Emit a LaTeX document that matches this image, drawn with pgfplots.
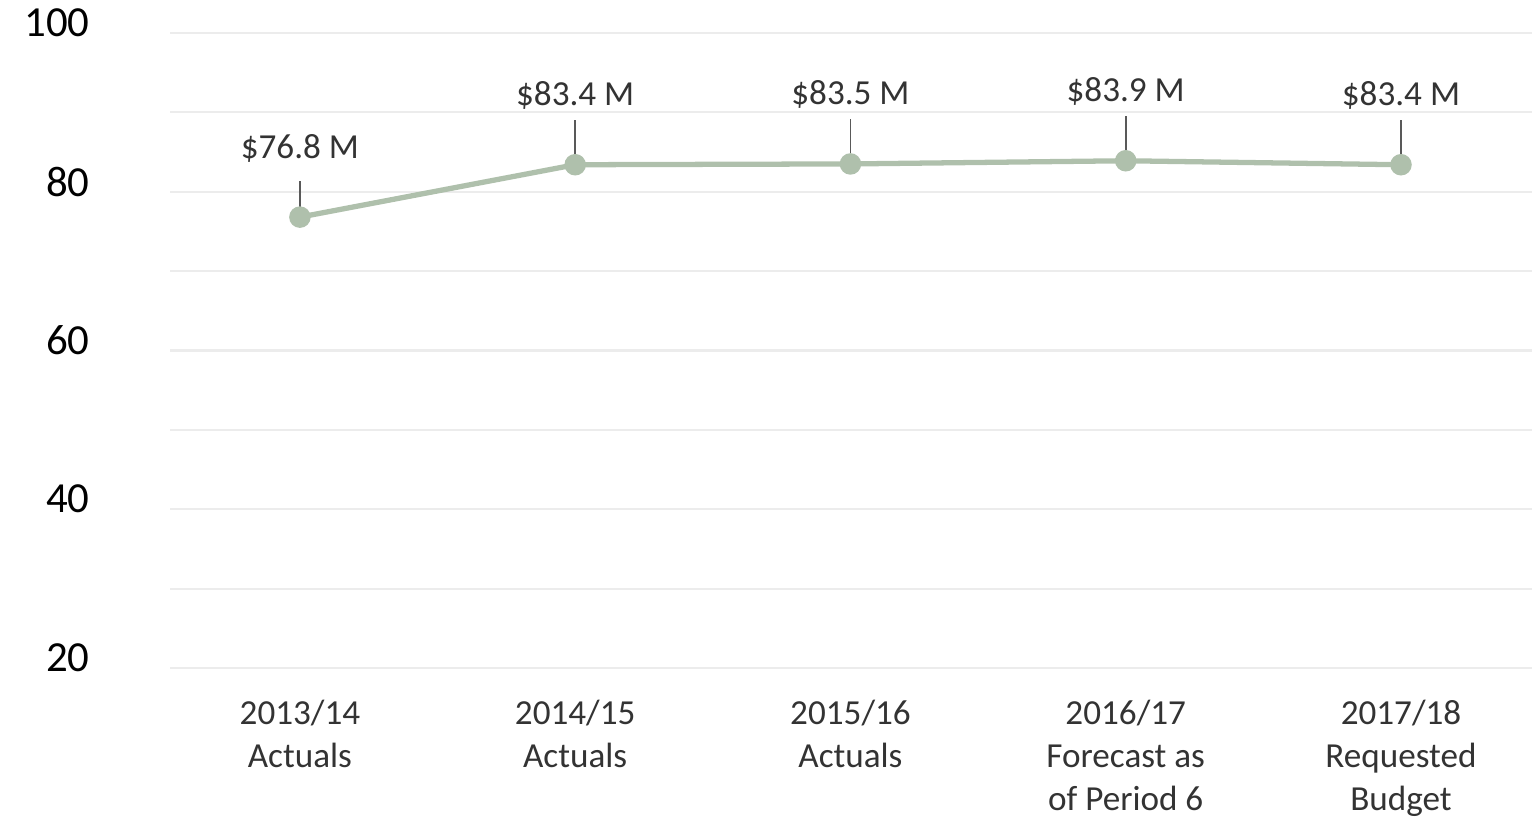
\documentclass[border=0pt]{standalone}
\usepackage{pgfplots}
\pgfplotsset{compat=1.18}
\usepackage{fontspec}
\setmainfont{Carlito}
\definecolor{linegreen}{RGB}{175,192,172}
\definecolor{gridgray}{RGB}{236,236,236}
\begin{document}
\begin{tikzpicture}
\begin{axis}[
  scale only axis,
  width=13.62cm, height=6.35cm,
  xmin=-0.472, xmax=4.476,
  ymin=20, ymax=100,
  axis line style={draw=none},
  xtick={0,1,2,3,4},
  xticklabels={{2013/14\\Actuals},{2014/15\\Actuals},{2015/16\\Actuals},{2016/17\\Forecast as\\of Period 6},{2017/18\\Requested\\Budget}},
  xticklabel style={align=center, font=\fontsize{10}{12.2}\selectfont, text=black!80, yshift=-0.2cm},
  ytick={20,40,60,80,100},
  minor ytick={30,50,70,90},
  ymajorgrids, yminorgrids,
  major grid style={gridgray, line width=0.6pt},
  minor grid style={gridgray, line width=0.6pt},
  major tick length=0pt, minor tick length=0pt,
  yticklabel style={font=\fontsize{12.2}{14}\selectfont, text=black, xshift=-0.68cm, yshift=0.1cm},
  /pgf/number format/assume math mode=true,
  clip=false,
]
% leader lines
\addplot[draw=none, forget plot,
  error bars/.cd, y dir=plus, y explicit,
  error bar style={black!65, line width=0.5pt},
  error mark=none]
  coordinates {(0,76.8) +- (0,4.6) (1,83.4) +- (0,5.6) (2,83.5) +- (0,5.6) (3,83.9) +- (0,5.6) (4,83.4) +- (0,5.6)};
\addplot[linegreen, line width=1.5pt, mark=*, mark size=2.3pt,
  mark options={fill=linegreen, draw=linegreen},
  nodes near coords={\$\pgfmathprintnumber[fixed,precision=1,fixed zerofill]{\pgfplotspointmeta}~M},
  every node near coord/.append style={anchor=center, yshift=0.69cm, font=\fontsize{10}{12}\selectfont, text=black!80},
  point meta=y]
  coordinates {(0,76.8) (1,83.4) (2,83.5) (3,83.9) (4,83.4)};
\end{axis}
\pgfresetboundingbox
\path[use as bounding box] ([xshift=-1.70cm, yshift=0.33cm]current axis.north west) rectangle ([yshift=-1.65cm]current axis.south east);
\end{tikzpicture}
\end{document}
